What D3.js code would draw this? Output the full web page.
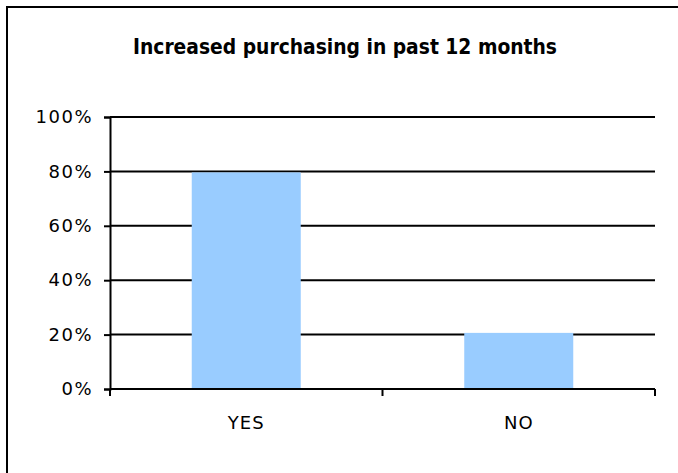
<!DOCTYPE html>
<html>
<head>
<meta charset="utf-8">
<script src="https://cdn.jsdelivr.net/npm/d3@7"></script>
<style>
    body { margin: 0; background: white; }
    svg { display: block; }
</style>
</head>
<body>
<svg id="chart"></svg>
<script>
var categories = ['YES', 'NO'];
var values = [0.80, 0.21];
var yTicks = [0, 0.2, 0.4, 0.6, 0.8, 1.0];
var title = 'Increased purchasing in past 12 months';

const width = 678;
const height = 473;
const margin = { top: 117, right: 23, bottom: 84, left: 110 };

var svg = d3.select('#chart').attr('width', width).attr('height', height);

// outer frame, runs off the right and bottom edges like the original
svg.append('rect')
    .attr('x', 7)
    .attr('y', 7)
    .attr('width', width + 20)
    .attr('height', height + 20)
    .style('fill', 'white')
    .style('stroke', 'black')
    .style('stroke-width', 2);

svg.append('text')
    .attr('x', 345)
    .attr('y', 54)
    .attr('text-anchor', 'middle')
    .attr('textLength', 424)
    .attr('lengthAdjust', 'spacingAndGlyphs')
    .style('font-family', "'Liberation Sans Narrow', 'DejaVu Sans Condensed', sans-serif")
    .style('font-weight', 'bold')
    .style('font-size', '21px')
    .text(title);

var x = d3.scaleBand()
    .domain(categories)
    .range([margin.left, width - margin.right])
    .paddingInner(0.6)
    .paddingOuter(0.3);

var y = d3.scaleLinear()
    .domain([0, 1])
    .range([height - margin.bottom, margin.top]);

// gridlines
svg.append('g')
    .selectAll('line')
    .data(yTicks.slice(1))
    .enter()
    .append('line')
    .attr('x1', margin.left)
    .attr('x2', width - margin.right)
    .attr('y1', function (d) { return y(d); })
    .attr('y2', function (d) { return y(d); })
    .style('stroke', 'black')
    .style('stroke-width', 2);

// bars
svg.append('g')
    .selectAll('rect')
    .data(values)
    .enter()
    .append('rect')
    .attr('x', function (d, i) { return x(categories[i]); })
    .attr('y', function (d) { return y(d) + 1; })
    .attr('width', x.bandwidth())
    .attr('height', function (d) { return y(0) - y(d) - 1; })
    .style('fill', '#99ccff');

// y axis
var yAxis = svg.append('g')
    .attr('transform', 'translate(' + margin.left + ',0)')
    .call(d3.axisLeft(y).tickValues(yTicks).tickSize(6).tickPadding(11)
        .tickFormat(d3.format('.0%')));
yAxis.select('.domain').style('stroke-width', 2);
yAxis.selectAll('.tick line').style('stroke-width', 2);
yAxis.selectAll('text')
    .style('font-family', 'DejaVu Sans')
    .style('font-size', '18px')
    .style('letter-spacing', '1.5px')
    .style('fill', 'black');

// x axis with ticks between categories
var xEdges = d3.scaleLinear().domain([0, categories.length])
    .range([margin.left, width - margin.right]);
var xAxis = svg.append('g')
    .attr('transform', 'translate(0,' + y(0) + ')');
xAxis.append('line')
    .attr('x1', margin.left)
    .attr('x2', width - margin.right)
    .style('stroke', 'black')
    .style('stroke-width', 2);
xAxis.selectAll('.edge')
    .data(d3.range(categories.length + 1))
    .enter()
    .append('line')
    .attr('class', 'edge')
    .attr('x1', function (d) { return xEdges(d); })
    .attr('x2', function (d) { return xEdges(d); })
    .attr('y1', 0)
    .attr('y2', 7)
    .style('stroke', 'black')
    .style('stroke-width', 2);
xAxis.selectAll('.label')
    .data(categories)
    .enter()
    .append('text')
    .attr('class', 'label')
    .attr('x', function (d) { return x(d) + x.bandwidth() / 2; })
    .attr('y', 40)
    .attr('text-anchor', 'middle')
    .style('font-family', 'DejaVu Sans')
    .style('font-size', '18px')
    .style('letter-spacing', '1px')
    .text(function (d) { return d; });
</script>
</body>
</html>
